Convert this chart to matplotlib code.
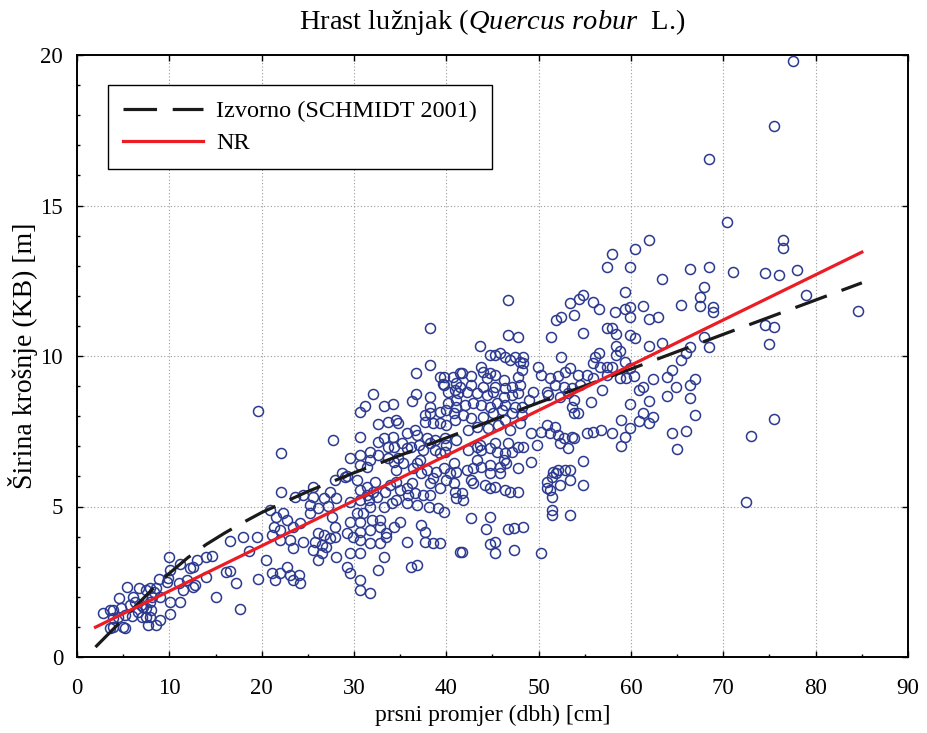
import numpy as np
import matplotlib

matplotlib.use("Agg")
import matplotlib.pyplot as plt
from matplotlib.ticker import MultipleLocator

trees_small = [
    (19.5, 4.0), (18.0, 4.0), (16.6, 3.86), (14.6, 3.37), (14.0, 3.31), (13.0, 3.22), (10.0, 3.33),
    (18.6, 3.52), (19.6, 2.6), (17.2, 2.45), (16.1, 2.83), (16.6, 2.86), (14.0, 2.67), (15.1, 2.0),
    (17.6, 1.6), (12.8, 2.39), (12.6, 3.0), (12.2, 2.96), (11.2, 3.09), (10.1, 2.89), (9.9, 2.61),
    (9.8, 2.5), (8.9, 2.58), (11.0, 2.45), (11.9, 2.56), (11.5, 2.23), (12.6, 2.34), (11.2, 1.84),
    (10.1, 1.84), (10.1, 1.42), (9.0, 1.23), (8.6, 1.06), (7.7, 1.06), (7.9, 1.34), (7.5, 1.62),
    (7.9, 1.84), (9.0, 2.0), (8.3, 2.17), (8.1, 2.0), (7.5, 2.23), (7.9, 2.28), (6.7, 2.28),
    (5.4, 2.34), (4.6, 1.95), (6.1, 2.0), (6.3, 1.84), (5.7, 1.73), (6.9, 1.73), (7.2, 1.67),
    (6.6, 1.51), (7.0, 1.34), (7.5, 1.34), (4.8, 1.62), (5.2, 1.40), (3.6, 1.56), (2.8, 1.45),
    (3.9, 1.56), (3.9, 1.01), (3.6, 0.95), (5.0, 1.01), (5.2, 0.96), (4.4, 1.34), (3.9, 1.30),
    (8.6, 2.3), (8.0, 1.55), (6.0, 1.35), (19.6, 8.17),
]

trees_mid = [
    (22.1, 6.77), (22.1, 5.49), (20.9, 4.88), (21.6, 4.66), (22.3, 4.77), (22.7, 4.55), (21.3, 4.33),
    (22.0, 4.22), (23.4, 4.33), (24.2, 4.44), (21.1, 4.05), (22.0, 3.89), (23.1, 3.89), (24.5, 3.83),
    (23.4, 3.61), (25.8, 3.83), (26.5, 3.72), (26.1, 4.11), (26.7, 4.05), (27.0, 3.67), (27.4, 3.94),
    (20.5, 3.22), (22.7, 3.0), (22.0, 2.78), (21.1, 2.78), (21.4, 2.56), (23.1, 2.72), (24.0, 2.72),
    (24.2, 2.45), (23.4, 2.56), (23.6, 5.33), (24.5, 5.38), (25.6, 5.66), (25.6, 5.33), (26.7, 5.27),
    (27.4, 5.49), (28.1, 5.27), (27.9, 5.88), (29.0, 5.99), (25.2, 5.05), (25.2, 4.77), (26.1, 4.94),
    (27.2, 5.02), (27.6, 4.66), (25.6, 3.55), (26.5, 3.44), (26.1, 3.22), (28.1, 3.33), (29.6, 3.44),
    (30.7, 3.44), (31.7, 3.78), (32.8, 3.78), (33.5, 4.0), (33.2, 3.33), (27.9, 4.33), (27.9, 4.0),
    (29.2, 4.11), (29.9, 4.0), (30.7, 4.16), (30.7, 3.89), (31.7, 4.22), (32.8, 4.33), (33.5, 4.11),
    (34.3, 4.33), (35.0, 4.5), (35.7, 3.83), (37.3, 4.39), (37.7, 4.16), (37.7, 3.83), (38.6, 3.78),
    (39.3, 3.78), (29.6, 4.5), (30.7, 4.5), (31.9, 4.55), (32.8, 4.55), (29.2, 3.0), (29.6, 2.78),
    (30.7, 2.56), (30.7, 2.23), (31.7, 2.12), (32.6, 2.89), (36.2, 3.0), (36.8, 3.06), (41.5, 3.5),
    (29.6, 5.16), (30.7, 5.22), (31.7, 5.0), (31.0, 4.77), (30.3, 4.77), (31.6, 5.22), (33.2, 5.0),
    (34.1, 5.11), (34.6, 5.22), (35.7, 5.11), (36.8, 5.05), (38.1, 5.0), (39.1, 4.94), (39.7, 4.83),
    (41.1, 5.27), (30.3, 5.88), (30.7, 5.55), (31.4, 5.66), (32.3, 5.83), (32.1, 5.49), (31.4, 5.38),
    (32.5, 5.33), (33.4, 5.49), (33.9, 5.71), (34.6, 5.83), (35.0, 5.55), (35.7, 5.6), (36.3, 5.77),
    (35.9, 5.38), (36.6, 5.44), (37.5, 5.38), (38.2, 5.38), (38.2, 5.77), (39.3, 5.6), (40.0, 5.88),
    (40.8, 5.77), (40.9, 5.49), (28.7, 6.12), (29.2, 6.01), (29.6, 6.6), (30.7, 6.71), (31.7, 6.82),
    (31.7, 6.55), (32.6, 6.71), (30.7, 6.38), (31.4, 6.32), (33.7, 6.6), (34.3, 6.49), (34.8, 6.6),
    (34.6, 6.21), (35.3, 6.43), (36.8, 6.43), (37.1, 6.55), (36.4, 6.27), (37.3, 6.1), (37.9, 6.21),
    (38.6, 5.94), (38.9, 6.16), (39.7, 6.27), (40.8, 6.43), (40.4, 6.1), (41.1, 6.16), (32.6, 7.15),
    (33.2, 7.27), (33.7, 6.99), (34.3, 6.99), (34.2, 7.32), (35.2, 7.1), (35.7, 6.93), (36.2, 6.99),
    (37.0, 7.04), (37.5, 6.88), (38.2, 7.1), (38.8, 6.88), (39.3, 6.77), (39.9, 6.82), (35.7, 7.43),
    (36.6, 7.54), (36.8, 7.38), (37.9, 7.27), (38.8, 7.21), (39.9, 7.27), (40.0, 7.04), (41.1, 7.21),
    (37.7, 7.82), (38.6, 7.76), (39.3, 7.79), (40.0, 7.71), (40.9, 7.87), (37.7, 8.04), (38.2, 8.1),
    (39.3, 8.15), (40.0, 8.21), (40.8, 8.1), (41.1, 8.32), (32.1, 8.74), (36.7, 8.74), (36.3, 8.52),
    (38.2, 8.65), (39.6, 9.07), (40.2, 8.82), (40.9, 8.87), (41.1, 9.09), (31.2, 8.34), (30.7, 8.13),
    (33.2, 8.34), (34.2, 8.41), (32.6, 7.73), (33.7, 7.82), (34.6, 7.87), (34.8, 7.79), (30.7, 7.32),
    (27.7, 7.21), (40.2, 8.43), (41.1, 8.54), (38.2, 8.32),
    (38.2, 10.93), (38.2, 9.71), (36.7, 9.43), (39.3, 9.29), (39.7, 9.29), (40.7, 9.29), (41.5, 9.43),
    (39.7, 9.02),
]

trees_large = [
    (46.7, 11.86), (53.4, 11.75), (54.4, 11.88), (54.8, 12.03), (55.9, 11.81), (56.5, 11.55),
    (53.8, 11.36), (51.9, 11.2), (52.4, 11.29), (46.7, 10.7), (47.8, 10.62), (51.3, 10.62),
    (54.8, 10.78), (43.7, 10.33), (44.7, 10.03), (45.3, 10.03), (45.8, 10.09), (46.4, 9.96),
    (46.9, 9.87), (47.4, 9.98), (48.0, 9.81), (48.3, 9.98), (48.3, 9.76), (48.2, 9.54), (47.8, 9.31),
    (52.4, 9.96), (56.1, 9.98), (56.5, 10.09), (55.9, 9.76), (56.6, 9.65), (43.8, 9.65), (49.9, 9.65),
    (41.7, 9.43), (42.7, 9.34), (44.0, 9.48), (44.7, 9.43), (45.3, 9.37), (46.2, 9.2), (44.4, 9.26),
    (50.3, 9.37), (51.2, 9.26), (52.1, 9.32), (52.9, 9.48), (53.4, 9.59), (54.3, 9.37), (55.2, 9.37),
    (55.9, 9.26), (41.5, 8.98), (42.7, 9.04), (44.0, 8.98), (45.3, 8.98), (46.4, 8.93), (47.1, 8.98),
    (48.0, 9.04), (50.9, 8.82), (51.8, 9.04), (52.7, 8.98), (53.6, 8.93), (54.5, 9.04), (41.3, 8.76),
    (42.2, 8.82), (43.3, 8.76), (44.4, 8.71), (45.1, 8.82), (46.2, 8.65), (47.1, 8.71), (47.8, 8.76),
    (49.4, 8.82), (53.8, 8.54), (53.6, 8.32), (55.7, 8.48), (42.0, 8.37), (42.9, 8.43), (43.8, 8.37),
    (44.7, 8.32), (45.5, 8.43), (46.4, 8.37), (47.4, 8.32), (48.9, 8.54), (48.2, 8.32), (41.8, 8.04),
    (42.7, 7.93), (44.0, 7.99), (45.1, 8.1), (46.0, 8.21), (47.1, 8.1), (48.2, 8.04), (51.0, 8.7),
    (52.3, 8.65), (53.2, 8.76), (53.8, 8.1), (54.3, 8.1), (42.4, 7.54), (43.3, 7.65), (44.5, 7.6),
    (45.6, 7.71), (46.9, 7.54), (48.0, 7.76), (46.4, 7.88), (49.2, 7.43), (50.3, 7.49), (51.2, 7.43),
    (52.1, 7.38), (53.6, 7.32), (55.2, 7.43), (55.9, 7.49), (56.8, 7.54), (50.9, 7.71), (51.8, 7.65),
    (52.7, 7.27), (53.2, 6.93), (53.8, 7.27), (52.3, 7.1), (49.8, 7.04), (49.2, 6.49), (54.8, 6.52),
    (51.9, 6.1), (51.6, 6.16), (52.1, 6.21), (52.9, 6.21), (53.4, 6.21), (51.4, 5.99), (52.3, 5.72),
    (53.4, 5.88), (50.9, 5.82), (51.2, 5.55), (50.9, 5.6), (51.4, 5.33), (54.8, 5.72), (51.4, 4.88),
    (51.4, 4.72), (53.4, 4.72), (42.4, 6.88), (43.3, 6.99), (43.8, 6.88), (44.7, 6.93), (45.5, 6.82),
    (46.4, 6.77), (47.1, 6.82), (47.8, 6.99), (48.3, 6.99), (46.7, 7.1), (45.3, 7.1), (43.6, 7.04),
    (42.2, 6.21), (42.9, 6.27), (43.8, 6.32), (44.7, 6.38), (45.8, 6.32), (46.5, 6.43), (47.8, 6.27),
    (45.8, 6.1), (44.7, 6.1), (43.3, 6.55), (46.2, 6.55), (42.7, 5.88), (42.9, 5.77), (41.7, 5.44),
    (41.8, 5.22), (44.2, 5.71), (44.7, 5.6), (45.3, 5.66), (46.4, 5.55), (46.9, 5.49), (47.8, 5.49),
    (42.7, 4.61), (44.7, 4.66), (44.3, 4.25), (46.7, 4.25), (47.3, 4.28), (48.3, 4.31), (41.7, 3.5),
    (44.7, 3.76), (45.3, 3.83), (45.3, 3.44), (47.3, 3.55), (50.3, 3.47),
]

trees_big = [
    (70.4, 14.46), (61.9, 13.86), (60.4, 13.55), (57.9, 13.39), (57.4, 12.97), (59.9, 12.97),
    (66.4, 12.88), (68.4, 12.95), (71.0, 12.8), (74.5, 12.75), (76.0, 12.69), (63.4, 12.55),
    (59.4, 12.14), (59.9, 11.62), (59.4, 11.55), (58.3, 11.47), (59.9, 11.29), (67.9, 12.28),
    (67.5, 11.97), (67.5, 11.66), (65.4, 11.7), (61.3, 11.66), (61.9, 11.23), (62.9, 11.28),
    (68.9, 11.62), (68.9, 11.47), (57.4, 10.92), (57.9, 10.92), (58.4, 10.73), (59.9, 10.7),
    (60.4, 10.59), (58.4, 10.33), (58.8, 10.15), (58.4, 10.03), (59.4, 9.81), (59.9, 9.59),
    (61.9, 10.33), (63.4, 10.44), (66.4, 10.31), (66.0, 10.11), (65.4, 9.87), (67.9, 10.64),
    (68.4, 10.29), (57.4, 9.65), (57.9, 9.65), (57.4, 9.37), (58.8, 9.26), (60.3, 9.32), (59.5, 9.26),
    (56.9, 8.87), (62.4, 9.23), (64.4, 9.54), (63.9, 9.29), (64.9, 8.96), (66.4, 9.04), (66.9, 9.23),
    (60.9, 8.87), (61.3, 8.98), (61.9, 8.52), (63.9, 8.68), (66.4, 8.62), (59.9, 8.4), (61.3, 8.12),
    (62.4, 7.99), (61.9, 7.79), (60.9, 7.85), (58.9, 7.88), (66.9, 8.04), (57.9, 7.43), (59.4, 7.32),
    (59.9, 7.6), (58.9, 7.01), (64.4, 7.43), (65.95, 7.52), (64.95, 6.92), (75.5, 7.9), (73.0, 7.34),
    (77.5, 19.81), (75.5, 17.64), (68.5, 16.53), (76.5, 13.87), (76.5, 13.58), (78.0, 12.86),
    (79.0, 12.03), (84.6, 11.5), (74.5, 11.03), (75.5, 10.95), (75.0, 10.4), (72.5, 5.16),
]

# original model (SCHMIDT 2001)
schmidt_dbh = [2, 4, 6, 8, 10, 12, 14, 16, 18, 20, 25, 30, 40, 50, 60, 70, 85]
schmidt_kb = [0.33, 0.95, 1.58, 2.2, 2.78, 3.3, 3.74, 4.12, 4.47, 4.8, 5.5, 6.12, 7.28, 8.45, 9.57, 10.72, 12.43]

# new regression (NR), straight red line
nr_dbh = [2, 85]
nr_kb = [0.99, 13.45]

plt.rcParams['font.family'] = ['Liberation Serif', 'DejaVu Serif']
plt.rcParams['mathtext.fontset'] = 'custom'
plt.rcParams['mathtext.rm'] = 'Liberation Serif'
plt.rcParams['mathtext.it'] = 'Liberation Serif:italic'

trees = np.array(trees_small + trees_mid + trees_large + trees_big)

fig = plt.figure(figsize=(9.28, 7.33), dpi=100)
ax = fig.add_axes([77 / 928, 1 - 657 / 733, 831 / 928, 602 / 733])

ax.plot(trees[:, 0], trees[:, 1], linestyle='none', marker='o', ms=7.2,
        mfc='none', mec='#2b3990', mew=1.1, zorder=3)
ax.plot(schmidt_dbh, schmidt_kb, color='#1a1a1a', lw=2.3, linestyle=(0, (10.5, 4.9)),
        label='Izvorno (SCHMIDT 2001)', zorder=4)
ax.plot(nr_dbh, nr_kb, color='#ec1c24', lw=2.3, label='NR', zorder=5)

ax.set_xlim(0, 90)
ax.set_ylim(0, 20)
ax.xaxis.set_major_locator(MultipleLocator(10))
ax.xaxis.set_minor_locator(MultipleLocator(5))
ax.yaxis.set_major_locator(MultipleLocator(5))
ax.yaxis.set_minor_locator(MultipleLocator(1))
ax.tick_params(which='both', direction='in', width=1, labelsize=16.5)
ax.tick_params(which='major', length=4, top=True, right=True)
ax.tick_params(which='minor', length=2.5)
ax.tick_params(axis='x', pad=15)
ax.tick_params(axis='y', pad=10)
ax.grid(True, which='major', color='#9a9a9a', linestyle=(0, (1, 2)), lw=0.8)
for sp in ax.spines.values():
    sp.set_linewidth(1.4)

ax.set_xlabel('prsni promjer (dbh) [cm]', fontsize=17)
ax.set_ylabel('Širina krošnje (KB) [m]', fontsize=20)
ax.xaxis.set_label_coords(0.5, -0.08)
ax.yaxis.set_label_coords(-0.047, 0.5)

fig.text(492 / 928, 1 - 22 / 733, r'Hrast lužnjak ($\mathit{Quercus\ robur}$  L.)',
         ha='center', va='center', fontsize=20.5)

leg = ax.legend(loc='upper left', bbox_to_anchor=(0.0373, 0.950), borderaxespad=0,
                fontsize=17.5, frameon=True, fancybox=False, edgecolor='black', framealpha=1,
                handlelength=3.3, handletextpad=0.53, borderpad=0.62, labelspacing=0.41)
leg.get_frame().set_linewidth(1.0)

fig.savefig('out.png', dpi=100)
